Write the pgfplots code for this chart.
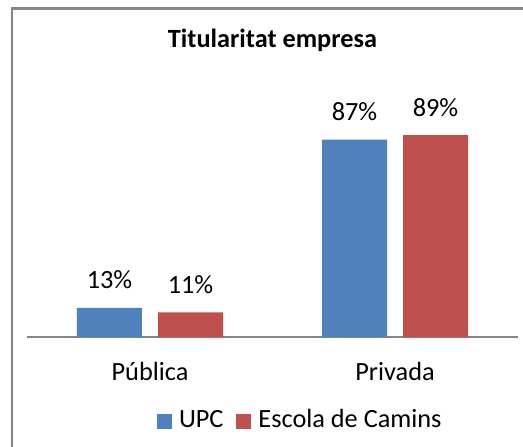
\documentclass[border=0pt]{standalone}
\usepackage{pgfplots}
\pgfplotsset{compat=1.18}
\usepackage{fontspec}
\setmainfont{Carlito}
\definecolor{upc}{HTML}{4F81BD}
\definecolor{cam}{HTML}{C0504D}
\definecolor{axgray}{HTML}{868686}
\begin{document}
\fontsize{26.3}{31}\selectfont
\begin{tikzpicture}
\useasboundingbox (0pt,0pt) rectangle (523pt,447pt);
\draw[axgray, line width=2.4pt] (12.2pt,-5pt) -- (12.2pt,438.3pt) -- (530pt,438.3pt);
\begin{axis}[
  at={(27.5pt,109.5pt)}, anchor=south west,
  width=490pt, height=227.5pt, scale only axis,
  xmin=-0.5, xmax=1.5, ymin=0, ymax=100,
  ybar=16pt, bar width=65pt,
  axis x line=bottom, axis y line=none, ytick=\empty,
  x axis line style={draw=axgray, line width=2pt, -},
  xtick={0,1}, xticklabels={Pública,Privada},
  major tick length=0pt,
  xticklabel style={anchor=base, yshift=-43pt, font=\fontsize{26.3}{31}\selectfont},
  nodes near coords={\pgfmathprintnumber{\pgfplotspointmeta}\%},
  every node near coord/.append style={anchor=base, yshift=19pt, font=\fontsize{26.3}{31}\selectfont, text=black},
  /pgf/number format/assume math mode=true,
  clip=false,
  title={\bfseries Titularitat empresa},
  title style={at={(0.5,1.249)}, anchor=base, font=\fontsize{26.3}{31}\selectfont},
  legend style={at={(0.2643,-0.414)}, anchor=south west, draw=none, fill=none,
    inner sep=0pt, outer sep=0pt, legend columns=-1,
    /tikz/every even column/.append style={column sep=13pt},
    nodes={inner sep=0pt, font=\fontsize{26.3}{31}\selectfont},
    cells={anchor=base west}},
  mylegend/.style={legend image code/.code={\fill[##1] (0pt,-1pt) rectangle (15pt,14pt); \path (22pt,0pt);}},
]
\addplot[fill=upc, draw=none, mylegend] coordinates {(0,13) (1,87)};
\addplot[fill=cam, draw=none, mylegend] coordinates {(0,11) (1,89)};
\legend{UPC, Escola de Camins}
\end{axis}
\end{tikzpicture}
\end{document}
